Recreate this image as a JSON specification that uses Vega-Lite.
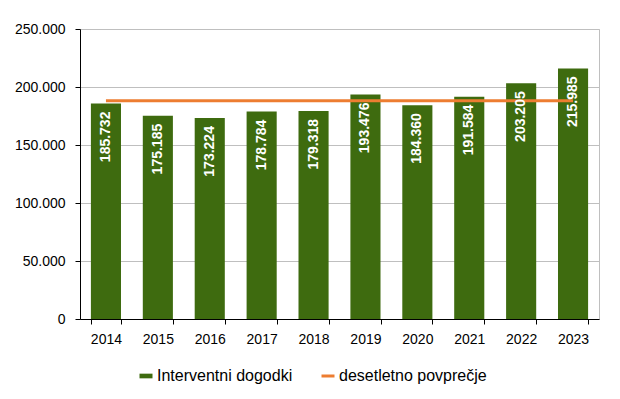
{
  "$schema": "https://vega.github.io/schema/vega-lite/v6.json",
  "width": 519,
  "height": 290,
  "autosize": {"type": "none"},
  "padding": {"left": 80, "top": 29, "right": 21, "bottom": 80},
  "background": "white",
  "config": {
    "locale": {"number": {"decimal": ",", "thousands": ".", "grouping": [3], "currency": ["", " €"]}},
    "font": "Liberation Sans",
    "view": {"stroke": "#BFBFBF", "strokeWidth": 1},
    "axis": {"labelFont": "Liberation Sans", "labelFontSize": 14, "labelColor": "#000000", "domainColor": "#000000", "tickColor": "#000000", "title": null},
    "legend": {"labelFont": "Liberation Sans", "labelFontSize": 16, "labelColor": "#000000", "labelLimit": 300}
  },
  "data": {
    "values": [
      {"year": "2014", "value": 185732, "avg": 188085},
      {"year": "2015", "value": 175185, "avg": 188085},
      {"year": "2016", "value": 173224, "avg": 188085},
      {"year": "2017", "value": 178784, "avg": 188085},
      {"year": "2018", "value": 179318, "avg": 188085},
      {"year": "2019", "value": 193476, "avg": 188085},
      {"year": "2020", "value": 184360, "avg": 188085},
      {"year": "2021", "value": 191584, "avg": 188085},
      {"year": "2022", "value": 203205, "avg": 188085},
      {"year": "2023", "value": 215985, "avg": 188085}
    ]
  },
  "encoding": {
    "x": {
      "field": "year",
      "type": "ordinal",
      "scale": {"paddingInner": 0.42, "paddingOuter": 0.21},
      "axis": {"labelAngle": 0, "tickBand": "extent", "tickSize": 5, "labelPadding": 8, "grid": false, "domainWidth": 1}
    }
  },
  "layer": [
    {
      "mark": {"type": "bar"},
      "encoding": {
        "y": {
          "field": "value",
          "type": "quantitative",
          "scale": {"domain": [0, 250000], "nice": false},
          "axis": {"values": [0, 50000, 100000, 150000, 200000, 250000], "format": ",.0f", "tickSize": 5, "labelPadding": 10, "grid": true, "gridColor": "#BFBFBF", "gridWidth": 1}
        },
        "color": {
          "datum": "Interventni dogodki",
          "scale": {"domain": ["Interventni dogodki", "desetletno povprečje"], "range": ["#3E6B0F", "#ED7D31"]},
          "legend": {
            "title": null,
            "orient": "none",
            "legendX": 58,
            "legendY": 339,
            "direction": "horizontal",
            "labelFontSize": 16,
            "labelColor": "#000000",
            "labelFont": "Liberation Sans",
            "symbolSize": 169,
            "labelOffset": 3,
            "columnPadding": 22,
            "encode": {
              "labels": {"update": {"fontSize": {"value": 16}}},
              "symbols": {
                "update": {
                  "shape": {"signal": "datum.value === 'Interventni dogodki' ? 'M-1,-0.36H1V0.36H-1Z' : 'M-1,0H1'"},
                  "fill": {"signal": "datum.value === 'Interventni dogodki' ? '#3E6B0F' : 'transparent'"},
                  "stroke": {"signal": "datum.value === 'Interventni dogodki' ? 'transparent' : '#ED7D31'"},
                  "strokeWidth": {"signal": "datum.value === 'Interventni dogodki' ? 0 : 3"},
                  "opacity": {"value": 1},
                  "fillOpacity": {"value": 1},
                  "strokeOpacity": {"value": 1}
                }
              }
            }
          }
        }
      }
    },
    {
      "mark": {"type": "line", "strokeWidth": 3},
      "encoding": {
        "y": {"field": "avg", "type": "quantitative"},
        "color": {"datum": "desetletno povprečje"}
      }
    },
    {
      "mark": {"type": "text", "angle": 270, "align": "right", "baseline": "middle", "dx": -8, "color": "#FFFFFF", "fontWeight": "bold", "fontSize": 14, "font": "Liberation Sans"},
      "encoding": {
        "y": {"field": "value", "type": "quantitative"},
        "text": {"field": "value", "type": "quantitative", "format": ",.0f"}
      }
    }
  ]
}
